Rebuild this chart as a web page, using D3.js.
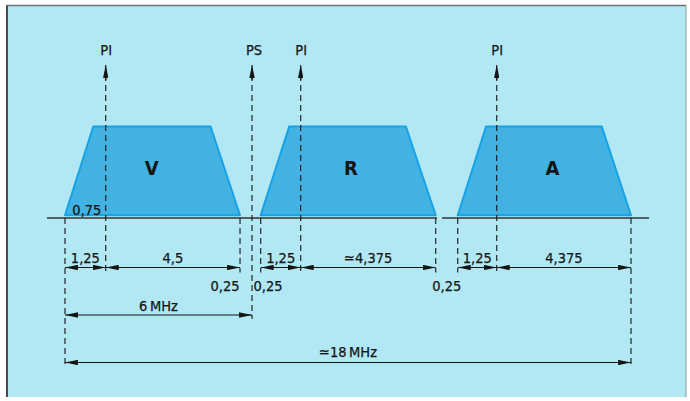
<!DOCTYPE html>
<html><head><meta charset="utf-8">
<script src="https://cdn.jsdelivr.net/npm/d3@7"></script>
<style>html,body{margin:0;padding:0;background:#fff;}svg{display:block;}</style>
</head><body>
<script>
// ---- data (frequencies in MHz as drawn in the diagram) ----
const bands        = ["V", "R", "A"];
const bandStart    = [0, 6.224, 12.49];
const bandTopStart = [0.90, 7.13, 13.39];
const bandTopEnd   = [4.63, 10.84, 17.07];
const bandEnd      = [5.566, 11.79, 18];
const bandLabelAt  = [2.76, 9.09, 15.5];

const carrierNames = ["PI", "PS", "PI", "PI"];
const carrierPos   = [1.295, 5.948, 7.496, 13.73];
const carrierLevel = 1.672;

const dimFrom   = [0, 1.295, 6.224, 7.496, 12.49, 13.73];
const dimTo     = [1.295, 5.566, 7.496, 11.79, 13.73, 18];
const dimLabels = ["1,25", "4,5", "1,25", "\u22434,375", "1,25", "4,375"];

const gapLabels = ["0,25", "0,25", "0,25"];
const gapFrom   = [5.566, 5.948, 11.79];
const gapTo     = [5.566, 5.948, 12.49];

const channelSpan  = [0, 5.948];
const channelLabel = "6\u2009MHz";
const totalSpan    = [0, 18];
const totalLabel   = "\u224318\u2009MHz";
const vestigial    = "0,75";

// ---- layout ----
const W = 690, H = 401;
const svg = d3.select("body").append("svg").attr("width", W).attr("height", H);
const x = d3.scaleLinear().domain([0, 18]).range([65, 631]);
const y = d3.scaleLinear().domain([0, 1]).range([218, 126.5]);
const row1 = 267.5, row3 = 315, row4 = 362.5;
const ink = "#151515";
const font = "'DejaVu Sans Condensed', 'DejaVu Sans', sans-serif";

// frame
svg.append("rect").attr("width", W).attr("height", H).attr("fill", "#fff");
svg.append("rect").attr("x", 7).attr("y", 5).attr("width", 679).attr("height", 392).attr("fill", "#b1e8f4");
svg.append("line").attr("x1", 7).attr("x2", 7).attr("y1", 5).attr("y2", 397).attr("stroke", "#4a4a4a").attr("stroke-width", 2);
svg.append("line").attr("x1", 7).attr("x2", 686).attr("y1", 5.5).attr("y2", 5.5).attr("stroke", "#6d7373").attr("stroke-width", 1.5);
svg.append("line").attr("x1", 686).attr("x2", 686).attr("y1", 5).attr("y2", 397).attr("stroke", "#8a9a9c").attr("stroke-width", 1);

// arrowhead marker
const defs = svg.append("defs");
defs.append("marker").attr("id", "ah").attr("viewBox", "0 0 13 5.4")
  .attr("refX", 13).attr("refY", 2.7).attr("markerWidth", 13).attr("markerHeight", 5.4)
  .attr("markerUnits", "userSpaceOnUse").attr("orient", "auto-start-reverse")
  .append("path").attr("d", "M0,0 L13,2.7 L0,5.4 Z").attr("fill", ink);

function label(xx, yy, t, opts = {}) {
  return svg.append("text").attr("x", xx).attr("y", yy)
    .attr("text-anchor", opts.anchor || "middle")
    .attr("font-family", font).attr("font-size", opts.size || 14.5)
    .attr("font-weight", opts.weight || "normal")
    .attr("fill", ink).attr("stroke", ink).attr("stroke-width", opts.sw === undefined ? 0.25 : opts.sw)
    .text(t);
}

// trapezoids
const area = d3.line().x(d => x(d[0])).y(d => y(d[1]));
bands.forEach((b, i) => {
  const pts = [[bandStart[i], 0.03], [bandTopStart[i], 1], [bandTopEnd[i], 1], [bandEnd[i], 0.03]];
  svg.append("path").attr("d", area(pts) + "Z").attr("fill", "#42b2e2")
    .attr("stroke", "#15a2e7").attr("stroke-width", 2).attr("stroke-linejoin", "round");
  label(x(bandLabelAt[i]), 175, b, {size: 20, weight: "bold", sw: 0});
});

// baseline (with small break between R and A)
svg.append("line").attr("x1", 47).attr("x2", 437).attr("y1", y(0)).attr("y2", y(0)).attr("stroke", "#333").attr("stroke-width", 1.5);
svg.append("line").attr("x1", 442).attr("x2", 649).attr("y1", y(0)).attr("y2", y(0)).attr("stroke", "#333").attr("stroke-width", 1.5);

// extension lines (dashed)
const dash = "6,4";
function ext(f, y1, y2) {
  svg.append("line").attr("x1", x(f)).attr("x2", x(f)).attr("y1", y1).attr("y2", y2)
    .attr("stroke", ink).attr("stroke-width", 1.1).attr("stroke-dasharray", dash);
}
ext(totalSpan[0], y(0), row4 + 4);
ext(totalSpan[1], y(0), row4 + 4);
[bandEnd[0], bandStart[1], bandEnd[1], bandStart[2]].forEach(f => ext(f, y(0), row1 + 5));

// carriers: arrows + labels
carrierNames.forEach((n, i) => {
  const f = carrierPos[i];
  const bottom = n === "PS" ? row3 + 4 : row1 + 5;
  ext(f, y(carrierLevel) + 10, bottom);
  svg.append("line").attr("x1", x(f)).attr("x2", x(f)).attr("y1", y(carrierLevel) + 15).attr("y2", y(carrierLevel))
    .attr("stroke", ink).attr("stroke-width", 1.1).attr("marker-end", "url(#ah)");
  label(x(f) + (n === "PS" ? 2 : 0.5), 55, n);
});

// dimension arrows
function dim(f0, f1, yy, t, ly) {
  svg.append("line").attr("x1", x(f0)).attr("x2", x(f1)).attr("y1", yy).attr("y2", yy)
    .attr("stroke", ink).attr("stroke-width", 1.1)
    .attr("marker-start", "url(#ah)").attr("marker-end", "url(#ah)");
  label((x(f0) + x(f1)) / 2, ly, t);
}
dimLabels.forEach((l, i) => dim(dimFrom[i], dimTo[i], row1, l, 263));
dim(channelSpan[0], channelSpan[1], row3, channelLabel, 311);
dim(totalSpan[0], totalSpan[1], row4, totalLabel, 357);

// gap labels 0,25
gapLabels.forEach((l, i) => {
  let anchor = "middle", xx = (x(gapFrom[i]) + x(gapTo[i])) / 2;
  if (i === 0) { anchor = "end"; xx = x(gapFrom[i]) - 0.5; }
  if (i === 1) { anchor = "start"; xx = x(gapFrom[i]) + 1.5; }
  label(xx, 291, l, {anchor});
});

// vestigial label
label((x(0) + x(carrierPos[0])) / 2 + 1.5, 215, vestigial);
</script>
</body></html>
